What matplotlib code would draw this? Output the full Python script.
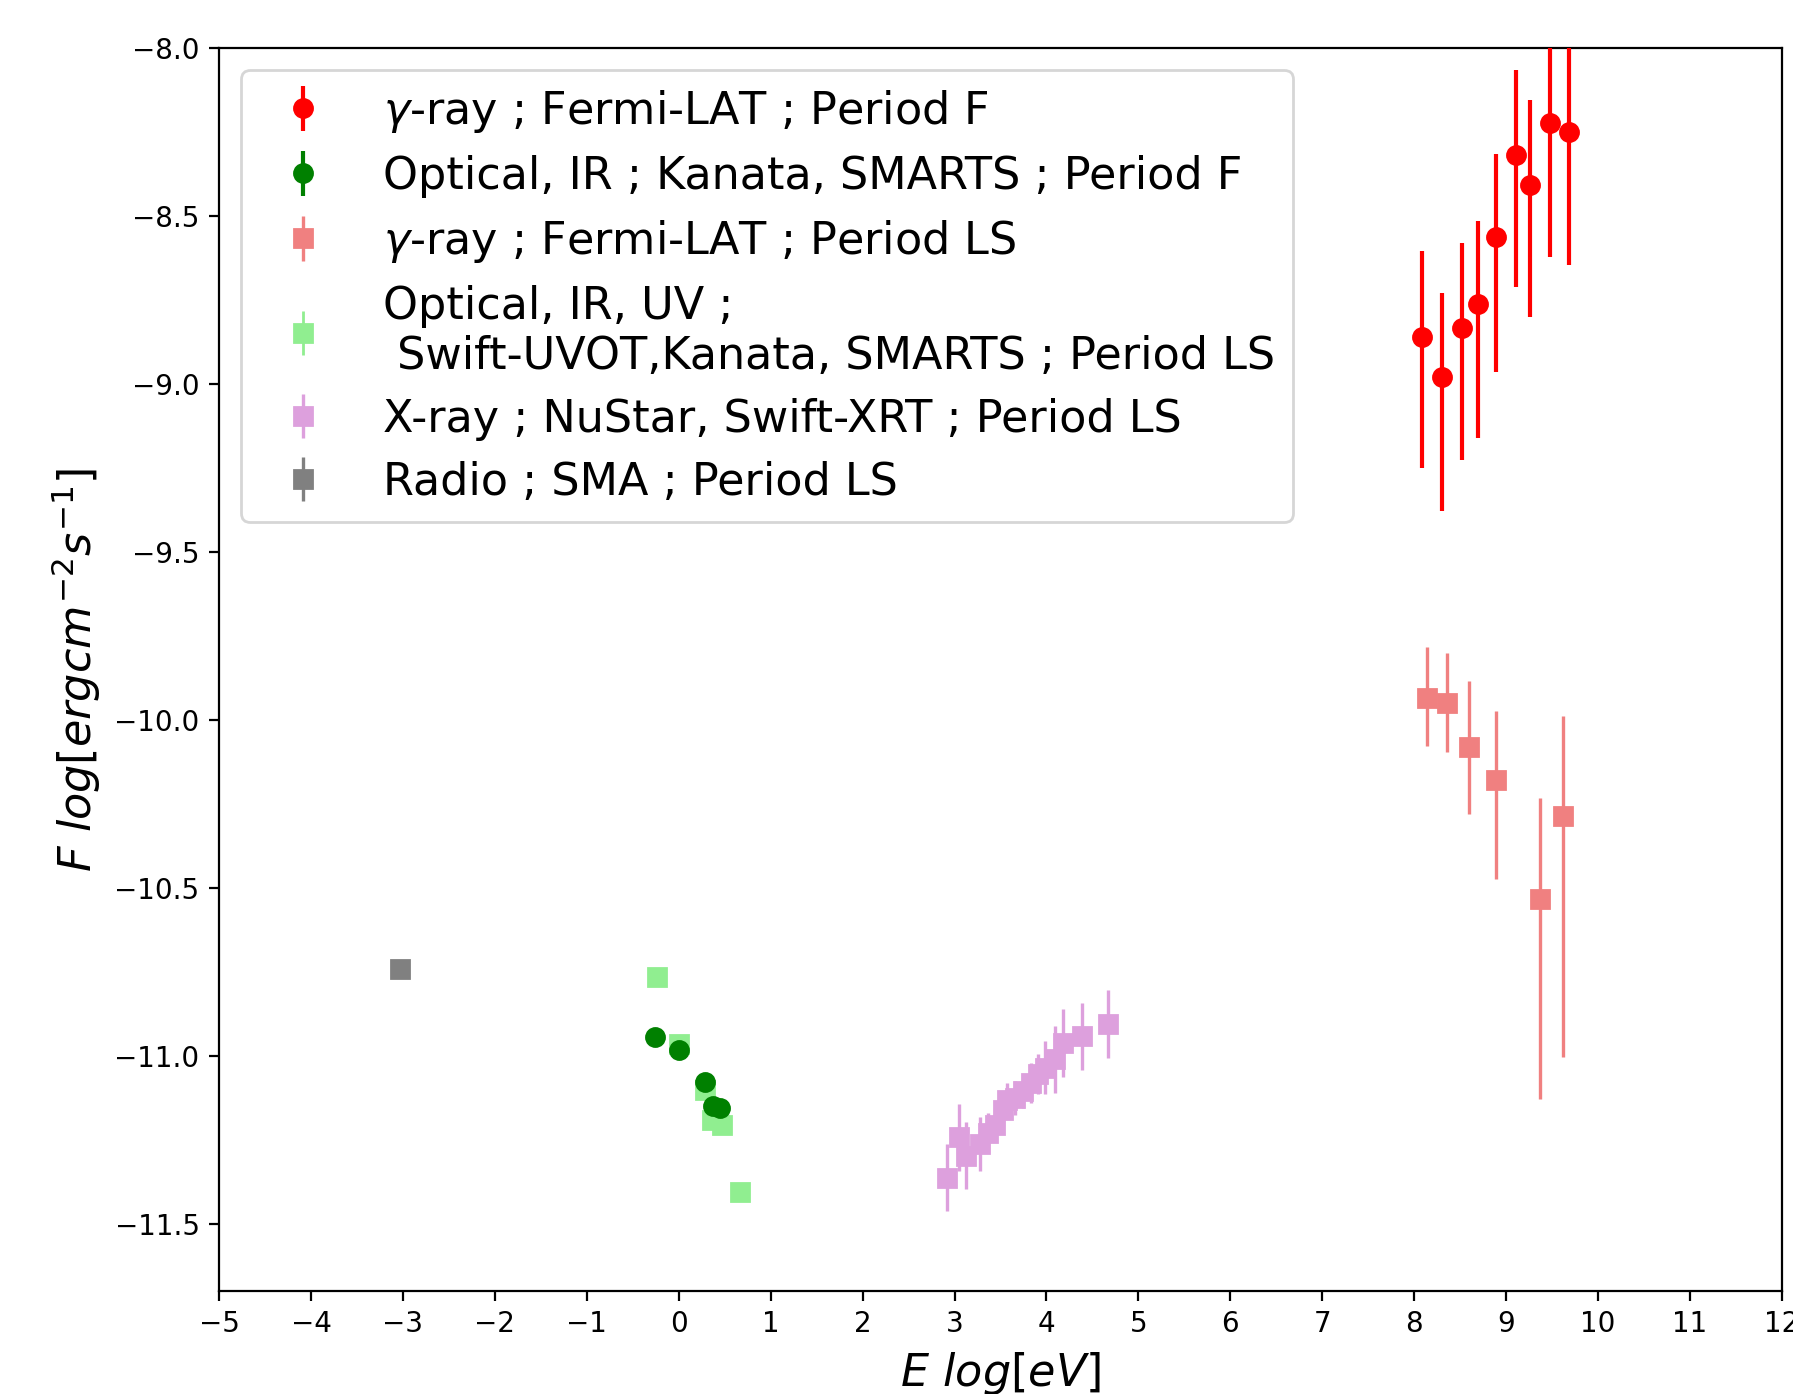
import matplotlib
matplotlib.use("Agg")
import matplotlib.pyplot as plt
import numpy as np

# gamma-ray, Fermi-LAT, Period F
gF_x = [8.08, 8.30, 8.52, 8.69, 8.89, 9.11, 9.26, 9.48, 9.68]
gF_y = [-8.859, -8.978, -8.834, -8.762, -8.563, -8.318, -8.408, -8.222, -8.249]
gF_lo = [0.392, 0.399, 0.392, 0.400, 0.400, 0.392, 0.392, 0.400, 0.397]
gF_hi = [0.255, 0.248, 0.253, 0.247, 0.247, 0.253, 0.253, 0.250, 0.250]

# Optical, IR, Period F
oF_x = [-0.258, 0.006, 0.289, 0.376, 0.449]
oF_y = [-10.943, -10.984, -11.079, -11.149, -11.156]
oF_err = [0.01, 0.01, 0.01, 0.01, 0.01]

# gamma-ray, Fermi-LAT, Period LS
gLS_x = [8.14, 8.36, 8.60, 8.89, 9.37, 9.615]
gLS_y = [-9.934, -9.950, -10.082, -10.179, -10.533, -10.286]
gLS_lo = [0.145, 0.147, 0.198, 0.295, 0.596, 0.717]
gLS_hi = [0.152, 0.150, 0.198, 0.206, 0.300, 0.298]

# Optical, IR, UV, Period LS
oLS_x = [-0.239, 0.0, 0.286, 0.359, 0.468, 0.667]
oLS_y = [-10.764, -10.964, -11.101, -11.190, -11.205, -11.404]
oLS_err = [0.01, 0.01, 0.01, 0.01, 0.01, 0.01]

# X-ray, NuStar / Swift-XRT, Period LS
x_x = [2.92, 3.05, 3.13, 3.28, 3.36, 3.44, 3.53, 3.57, 3.66, 3.74, 3.83,
       3.91, 3.98, 4.09, 4.18, 4.39, 4.67]
x_y = [-11.363, -11.242, -11.297, -11.262, -11.230, -11.205, -11.160, -11.130,
       -11.125, -11.105, -11.080, -11.055, -11.035, -11.010, -10.962, -10.942, -10.905]
x_err = [0.10, 0.10, 0.10, 0.08, 0.06, 0.05, 0.05, 0.05, 0.05, 0.05, 0.06,
         0.06, 0.08, 0.10, 0.10, 0.10, 0.10]

# Radio, SMA, Period LS
r_x = [-3.03]
r_y = [-10.743]
r_err = [0.01]

labels = [
    r"$\gamma$-ray ; Fermi-LAT ; Period F",
    "Optical, IR ; Kanata, SMARTS ; Period F",
    r"$\gamma$-ray ; Fermi-LAT ; Period LS",
    "Optical, IR, UV ;\n Swift-UVOT,Kanata, SMARTS ; Period LS",
    "X-ray ; NuStar, Swift-XRT ; Period LS",
    "Radio ; SMA ; Period LS",
]

dpi = 200
fig = plt.figure(figsize=(1793 / dpi, 1394 / dpi), dpi=dpi)
ax = fig.add_axes([219 / 1793, 1 - 1291 / 1394, (1782 - 219) / 1793, (1291 - 48) / 1394])

h1 = ax.errorbar(gF_x, gF_y, yerr=[gF_lo, gF_hi], fmt='o', color='red', ms=6.5, elinewidth=1.5, zorder=3)
h3 = ax.errorbar(gLS_x, gLS_y, yerr=[gLS_lo, gLS_hi], fmt='s', color='lightcoral', ms=6.2, elinewidth=1.2, zorder=3)
h4 = ax.errorbar(oLS_x, oLS_y, yerr=oLS_err, fmt='s', color='lightgreen', ms=6.2, elinewidth=1.0, zorder=3)
h2 = ax.errorbar(oF_x, oF_y, yerr=oF_err, fmt='o', color='green', ms=6.5, elinewidth=1.5, zorder=4)
h5 = ax.errorbar(x_x, x_y, yerr=x_err, fmt='s', color='plum', ms=6.2, elinewidth=1.2, zorder=3)
h6 = ax.errorbar(r_x, r_y, yerr=r_err, fmt='s', color='gray', ms=6.2, elinewidth=1.2, zorder=3)

ax.set_xlim(-5, 12)
ax.set_ylim(-11.7, -8.0)
ax.set_xticks(np.arange(-5, 13, 1))
ax.set_yticks(np.arange(-11.5, -7.99, 0.5))
ax.tick_params(labelsize=10)

ax.set_xlabel(r"$E\ log[eV]$", fontsize=16)
ax.set_ylabel(r"$F\ log[ergcm^{-2}s^{-1}]$", fontsize=16)

ax.legend([h1, h2, h3, h4, h5, h6], labels, loc='upper left', fontsize=16,
          labelspacing=0.45)

fig.savefig("out.png", dpi=dpi)
